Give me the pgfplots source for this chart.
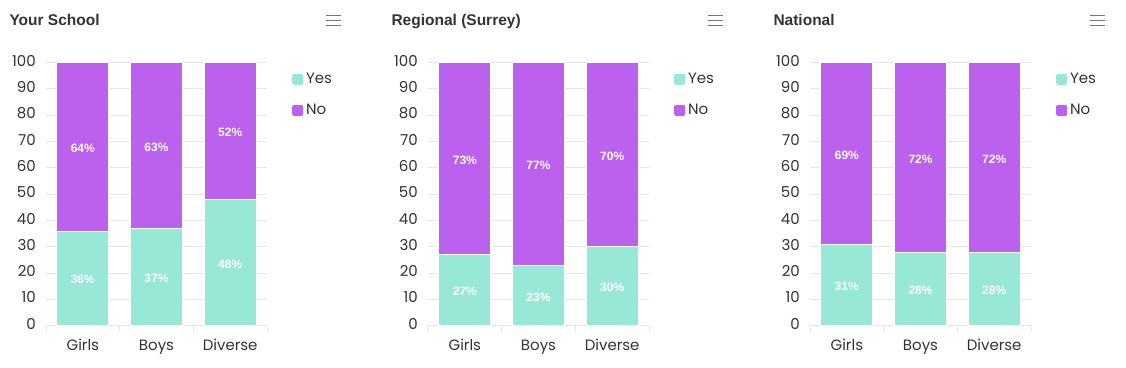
\documentclass[border=0pt]{standalone}
\usepackage{pgfplots}
\pgfplotsset{compat=1.18}
\usepackage{fontspec}
\setmainfont{Poppins}
\newfontfamily\lib{Liberation Sans}
\definecolor{yescol}{HTML}{98E8D7}
\definecolor{nocol}{HTML}{BC60EE}
\definecolor{gridc}{HTML}{E6E6E6}
\definecolor{txt}{HTML}{333333}
\definecolor{menuc}{HTML}{6E7887}

\pgfplotsset{panel/.style={
  ybar stacked, scale only axis, width=221pt, height=263pt, anchor=south west,
  xmin=-0.5, xmax=2.5, ymin=0, ymax=100,
  xtick={0,1,2}, xticklabels={Girls,Boys,Diverse},
  ytick={0,10,...,100},
  bar width=52pt,
  axis x line*=bottom, axis y line*=left,
  x axis line style={draw=gridc, line width=1pt, -},
  y axis line style={draw=none, -},
  major tick length=0pt,
  ymajorgrids, grid style={draw=gridc, line width=1pt},
  extra x ticks={-0.5,0.5,1.5,2.5}, extra x tick labels={},
  extra x tick style={major tick length=6pt, tick align=outside, tick style={draw=gridc, line width=1pt}, grid=none},
  tick label style={font=\fontsize{15}{18}\selectfont, text=txt},
  /pgf/number format/assume math mode=true,
  yticklabel style={anchor=east, inner sep=0pt, xshift=-10pt, yshift=2pt},
  xticklabel style={anchor=base, inner sep=0pt, yshift=-25pt},
  point meta=rawy,
  nodes near coords={\pgfmathprintnumber[fixed,precision=0]{\pgfplotspointmeta}\%},
  every node near coord/.append style={anchor=center, font=\lib\bfseries\fontsize{12}{14}\selectfont, text=white, yshift=-1.5pt},
  legend style={at={(1.113,0.96)}, anchor=north west, draw=none, fill=none, inner sep=0pt, font=\fontsize{15}{18}\selectfont, text=txt, row sep=19pt, nodes={inner sep=0pt}},
  legend cell align=left,
  /tikz/every odd column/.style={column sep=3pt},
  legend image code/.code={\fill[#1, draw=none, rounded corners=1.5pt] (0pt,-5.5pt) rectangle (11pt,5.5pt);},
  clip=false,
}}

\begin{document}
\begin{tikzpicture}
\path[use as bounding box] (0,0) rectangle (1126pt,367pt);

% Panel 1
\begin{axis}[panel, at={(46pt,41.3pt)}]
\addplot[fill=yescol, draw=white, line width=1pt] coordinates {(0,36) (1,37) (2,48)};
\addplot[fill=nocol, draw=white, line width=1pt] coordinates {(0,64) (1,63) (2,52)};
\legend{Yes,No}
\end{axis}

% Panel 2
\begin{axis}[panel, at={(428pt,41.3pt)}]
\addplot[fill=yescol, draw=white, line width=1pt] coordinates {(0,27) (1,23) (2,30)};
\addplot[fill=nocol, draw=white, line width=1pt] coordinates {(0,73) (1,77) (2,70)};
\legend{Yes,No}
\end{axis}

% Panel 3
\begin{axis}[panel, at={(810pt,41.3pt)}]
\addplot[fill=yescol, draw=white, line width=1pt] coordinates {(0,31) (1,28) (2,28)};
\addplot[fill=nocol, draw=white, line width=1pt] coordinates {(0,69) (1,72) (2,72)};
\legend{Yes,No}
\end{axis}

% Titles and menu icons
\foreach \ox/\ttl in {0/Your School, 382/Regional (Surrey), 764/National}{
  \node[anchor=base west, inner sep=0pt, font=\lib\bfseries\fontsize{15.5}{18}\selectfont, text=txt] at ({9.3pt+\ox pt},341pt) {\ttl};
  \foreach \yy in {341.5,346.5,351.5}{
    \draw[menuc, line width=1.8pt] ({326pt+\ox pt},\yy pt) -- ({341pt+\ox pt},\yy pt);
  }
}
\end{tikzpicture}
\end{document}
